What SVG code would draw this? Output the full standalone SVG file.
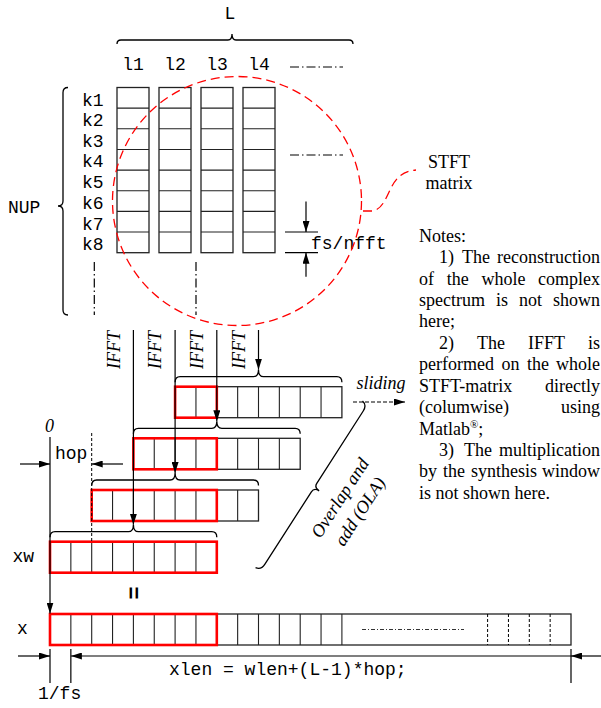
<svg xmlns="http://www.w3.org/2000/svg" width="601" height="708" viewBox="0 0 601 708">
<style>
.mono{font-family:"Liberation Mono","Courier New",monospace;font-size:18px;fill:#000}
.serif{font-family:"Liberation Serif","Times New Roman",serif;font-size:18px;fill:#000}
.it{font-style:italic}
.cell{fill:#fff;stroke:#222;stroke-width:1.3}
.grid{stroke:#222;stroke-width:1.1;fill:none}
.red{fill:none;stroke:#f00;stroke-width:2.6}
.ln{stroke:#000;stroke-width:1.2;fill:none}
.brace{stroke:#000;stroke-width:1.3;fill:none}
.dd{stroke:#000;stroke-width:1.2;stroke-dasharray:9 3 1.5 3;fill:none}
.dash{stroke:#000;stroke-width:1;stroke-dasharray:3 2;fill:none}
.circ{fill:none;stroke:#f00;stroke-width:1.3;stroke-dasharray:9 5}
.end{text-anchor:end}
.mid{text-anchor:middle}
</style>
<defs>
<marker id="ah" markerWidth="11" markerHeight="7" refX="11" refY="3.5" orient="auto" markerUnits="userSpaceOnUse"><path d="M0,0 L11,3.5 L0,7 z" fill="#000"/></marker>
</defs>

<g id="top-brace">
<path class="brace" d="M117,44 Q117,40 121,40 L228,40 Q232,40 232,34 Q232,40 236,40 L349,40 Q353,40 353,44"/>
<text class="mono mid" x="230" y="19">L</text>
<text class="mono mid" x="133" y="70">l1</text>
<text class="mono mid" x="175" y="70">l2</text>
<text class="mono mid" x="217" y="70">l3</text>
<text class="mono mid" x="259" y="70">l4</text>
<path class="dd" d="M290,67 L343,67"/>
</g>

<g id="nup-brace">
<path class="brace" d="M68,87.5 Q63,87.5 63,92.5 L63,201 Q63,206 58,206 Q63,206 63,211 L63,310 Q63,315 68,315"/>
<text class="mono" x="8" y="212.5">NUP</text>
<text class="mono" x="82" y="105.6">k1</text>
<text class="mono" x="82" y="126.3">k2</text>
<text class="mono" x="82" y="147">k3</text>
<text class="mono" x="82" y="167">k4</text>
<text class="mono" x="82" y="188.3">k5</text>
<text class="mono" x="82" y="209">k6</text>
<text class="mono" x="82" y="229.6">k7</text>
<text class="mono" x="82" y="250.2">k8</text>
<path class="dd" d="M94.3,262 L94.3,315 M196,262 L196,315"/>
</g>

<g id="stft-matrix">
<rect class="cell" x="117" y="87.5" width="32" height="165.2"/>
<rect class="cell" x="159" y="87.5" width="32" height="165.2"/>
<rect class="cell" x="201" y="87.5" width="32" height="165.2"/>
<rect class="cell" x="243" y="87.5" width="32" height="165.2"/>
<path class="grid" d="M117,108.15h32M117,128.8h32M117,149.45h32M117,170.1h32M117,190.75h32M117,211.4h32M117,232.05h32
M159,108.15h32M159,128.8h32M159,149.45h32M159,170.1h32M159,190.75h32M159,211.4h32M159,232.05h32
M201,108.15h32M201,128.8h32M201,149.45h32M201,170.1h32M201,190.75h32M201,211.4h32M201,232.05h32
M243,108.15h32M243,128.8h32M243,149.45h32M243,170.1h32M243,190.75h32M243,211.4h32M243,232.05h32"/>
<path class="dd" d="M290,155 L343,155"/>
</g>

<g id="fs-nfft">
<path class="ln" d="M285,232 L318,232 M285,252.7 L318,252.7"/>
<text class="mono" x="311" y="249">fs/nfft</text>
</g>

<g id="stft-circle">
<circle class="circ" cx="237" cy="201" r="124.5"/>
<path class="circ" d="M363,211 L372,211 C382,210 386,198 391,188 C397,176 404,171 416,170"/>
<text class="serif mid" x="449" y="168">STFT</text>
<text class="serif mid" x="449" y="189">matrix</text>
</g>

<g id="notes" class="serif">
<text x="419" y="241.5">Notes:</text>
<text x="439" y="263">1)</text><text x="462" y="263">The</text><text class="end" x="600" y="263">reconstruction</text>
<text x="419" y="284.5">of</text><text x="446.7" y="284.5">the</text><text x="481.4" y="284.5">whole</text><text class="end" x="600" y="284.5">complex</text>
<text x="419" y="306">spectrum</text><text x="496" y="306">is</text><text x="519" y="306">not</text><text class="end" x="600" y="306">shown</text>
<text x="419" y="327">here;</text>
<text x="439" y="348.5">2)</text><text x="477" y="348.5">The</text><text x="528" y="348.5">IFFT</text><text class="end" x="600" y="348.5">is</text>
<text x="419" y="370">performed</text><text x="501.5" y="370">on</text><text x="527" y="370">the</text><text class="end" x="600" y="370">whole</text>
<text x="419" y="391.5">STFT-matrix</text><text class="end" x="600" y="391.5">directly</text>
<text x="419" y="413">(columwise)</text><text class="end" x="600" y="413">using</text>
<text x="419" y="434.5">Matlab<tspan font-size="11" dy="-7">®</tspan><tspan dy="7">;</tspan></text>
<text x="439" y="456">3)</text><text x="464" y="456">The</text><text class="end" x="600" y="456">multiplication</text>
<text x="419" y="477">by</text><text x="443" y="477">the</text><text x="471" y="477">synthesis</text><text class="end" x="600" y="477">window</text>
<text x="419" y="498.5">is not shown here.</text>
</g>

<g id="ifft-labels" class="serif it">
<text class="mid" transform="translate(119.5,350) rotate(-90)">IFFT</text>
<text class="mid" transform="translate(161.2,350) rotate(-90)">IFFT</text>
<text class="mid" transform="translate(202.9,350) rotate(-90)">IFFT</text>
<text class="mid" transform="translate(244.6,350) rotate(-90)">IFFT</text>
</g>

<g id="frame4">
<rect class="cell" x="175.1" y="386.7" width="166.8" height="31"/>
<path class="grid" d="M195.95,386.7v31M216.8,386.7v31M237.65,386.7v31M258.5,386.7v31M279.35,386.7v31M300.2,386.7v31M321.05,386.7v31"/>
<rect class="red" x="175.1" y="386.7" width="41.7" height="31"/>
<path class="brace" d="M175.1,382.2 Q175.1,376.7 180.1,376.7 L253.5,376.7 Q258.5,376.7 258.5,369.7 Q258.5,376.7 263.5,376.7 L336.9,376.7 Q341.9,376.7 341.9,382.2"/>
</g>

<g id="frame3">
<rect class="cell" x="133.4" y="438.3" width="166.8" height="31"/>
<path class="grid" d="M154.25,438.3v31M175.1,438.3v31M195.95,438.3v31M216.8,438.3v31M237.65,438.3v31M258.5,438.3v31M279.35,438.3v31"/>
<rect class="red" x="133.4" y="438.3" width="83.4" height="31"/>
<path class="brace" d="M133.4,433.8 Q133.4,428.3 138.4,428.3 L211.8,428.3 Q216.8,428.3 216.8,421.3 Q216.8,428.3 221.8,428.3 L295.2,428.3 Q300.2,428.3 300.2,433.8"/>
</g>

<g id="frame2">
<rect class="cell" x="91.7" y="490" width="166.8" height="31"/>
<path class="grid" d="M112.55,490v31M133.4,490v31M154.25,490v31M175.1,490v31M195.95,490v31M216.8,490v31M237.65,490v31"/>
<rect class="red" x="91.7" y="490" width="125.1" height="31"/>
<path class="brace" d="M91.7,485.5 Q91.7,480 96.7,480 L170.1,480 Q175.1,480 175.1,473 Q175.1,480 180.1,480 L253.5,480 Q258.5,480 258.5,485.5"/>
</g>

<g id="frame-xw">
<rect class="cell" x="50" y="541.7" width="166.8" height="31"/>
<path class="grid" d="M70.85,541.7v31M91.7,541.7v31M112.55,541.7v31M133.4,541.7v31M154.25,541.7v31M175.1,541.7v31M195.95,541.7v31"/>
<rect class="red" x="50" y="541.7" width="166.8" height="31"/>
<path class="brace" d="M50,537.2 Q50,531.7 55,531.7 L128.4,531.7 Q133.4,531.7 133.4,524.7 Q133.4,531.7 138.4,531.7 L211.8,531.7 Q216.8,531.7 216.8,537.2"/>
<text class="mono" x="12.5" y="562">xw</text>
<text x="133.6" y="593" transform="rotate(90 133.6 593)" text-anchor="middle" dominant-baseline="central" font-family="Liberation Sans, Arial, sans-serif" font-weight="bold" font-size="22">=</text>
</g>

<g id="signal-x">
<rect class="cell" x="50" y="614" width="521" height="31"/>
<path class="grid" d="M70.85,614v31M91.7,614v31M112.55,614v31M133.4,614v31M154.25,614v31M175.1,614v31M195.95,614v31M237.65,614v31M258.5,614v31M279.35,614v31M300.2,614v31M321.05,614v31M341.9,614v31"/>
<path class="dash" d="M487.6,614v31M508.45,614v31M529.3,614v31M550.15,614v31"/>
<path d="M362,629.5 L464,629.5" stroke="#000" stroke-width="0.8" stroke-dasharray="4 2 1 2" fill="none"/>
<rect class="red" x="50" y="614" width="166.8" height="31"/>
<text class="mono" x="17" y="634">x</text>
</g>

<g id="hop">
<text class="mono" x="55" y="458.5">hop</text>
<text class="serif it" x="45" y="431.5" font-size="16">0</text>
<path class="dash" d="M91.7,433 L91.7,541.7"/>
</g>

<g id="ola">
<path class="brace" transform="translate(263.3,566.7) rotate(-57.3)" d="M-5,-6 Q-4,0 3,0 L89,0 Q94,0 94,6 Q94,0 99,0 L185,0 Q192,0 193,-6"/>
<text class="serif it mid" transform="translate(344.9,501.2) rotate(-57)">Overlap and</text>
<text class="serif it mid" transform="translate(364.9,514.7) rotate(-57)">add (OLA)</text>
<text class="serif it" x="356.5" y="389">sliding</text>
</g>

<g id="dimension">
<path class="ln" d="M50,649 L50,683 M70.85,649 L70.85,683 M571,649 L571,683"/>
<text class="mono" x="169" y="675">xlen = wlen+(L-1)*hop;</text>
<text class="mono" x="38" y="699">1/fs</text>
</g>

<g id="connectors">
<path class="ln" marker-end="url(#ah)" d="M306,201.5 L306,232"/>
<path class="ln" marker-end="url(#ah)" d="M306,276.7 L306,252.7"/>
<path class="ln" marker-end="url(#ah)" d="M133.4,330 L133.4,524.7"/>
<path class="ln" marker-end="url(#ah)" d="M175.1,330 L175.1,473"/>
<path class="ln" marker-end="url(#ah)" d="M216.8,330 L216.8,421.3"/>
<path class="ln" marker-end="url(#ah)" d="M258.5,330 L258.5,369.7"/>
<path class="ln" marker-end="url(#ah)" d="M50,437 L50,613.5"/>
<path class="ln" marker-end="url(#ah)" d="M20,464 L50,464"/>
<path class="ln" marker-end="url(#ah)" d="M123,464 L91.7,464"/>
<path class="ln" stroke-dasharray="4 2" marker-end="url(#ah)" d="M353,402 L405,402"/>
<path class="ln" marker-end="url(#ah)" d="M18,656 L50,656"/>
<path class="ln" marker-end="url(#ah)" d="M571,656 L70.85,656"/>
<path class="ln" marker-end="url(#ah)" d="M601,656 L571,656"/>
</g>
</svg>
